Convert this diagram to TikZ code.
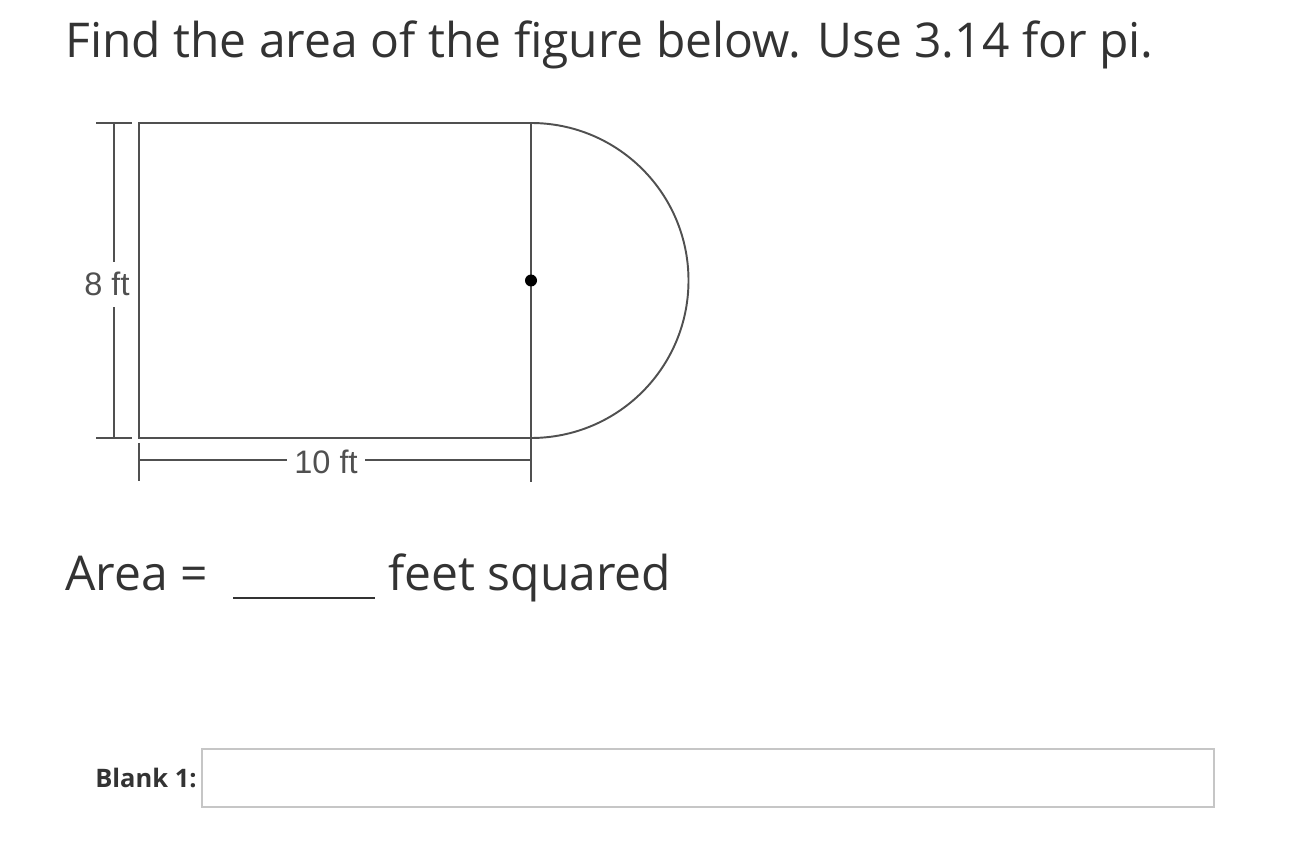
\documentclass[tikz,border=0pt]{standalone}
\usepackage{fontspec}
\setmainfont{Open Sans}
\newfontfamily\figfont{Liberation Sans}
\usetikzlibrary{positioning, calc}
\definecolor{ink}{RGB}{51,51,51}
\definecolor{figgray}{RGB}{80,80,80}
\definecolor{boxgray}{RGB}{198,198,198}

\begin{document}
\begin{tikzpicture}[
    x=0.02cm, y=-0.02cm,
    qtext/.style={anchor=base west, inner sep=0pt, text=ink, font=\fontsize{27.3}{30}\selectfont},
    figline/.style={draw=figgray, line width=1.1pt},
    dimlabel/.style={text=figgray, inner sep=0pt, font=\figfont\fontsize{18.5}{20}\selectfont}
]
\useasboundingbox (0,0) rectangle (1296,851);

% question text
\node[qtext] (title) at (65,58) {Find the area of the figure below. Use 3.14 for pi.};
\node[qtext] (arealbl) at (65,590) {Area =};
\node[qtext] (unit) at (388,590) {feet squared};
\coordinate (blankL) at (233,598);
\coordinate (blankR) at (375,598);
\draw[ink, line width=1.2pt] (blankL) -- (blankR);

% figure: rectangle with half circle
\coordinate (tl) at (139,123);
\coordinate (tr) at (531,123);
\coordinate (bl) at (139,438);
\coordinate (br) at (531,438);
\coordinate (ctr) at (531,280.5);
\draw[figline] (tr) -- (tl) -- (bl) -- (br) -- cycle;
\draw[figline] (tr) arc[start angle=-90, end angle=90, radius=157.5];
\fill[black] (ctr) circle[radius=6];

% height dimension
\node[dimlabel] (hlbl) at (107,284) {8 ft};
\coordinate (htop) at (114,123);
\coordinate (hbot) at (114,438);
\draw[figline] (96,123) -- (132,123);
\draw[figline] (96,438) -- (132,438);
\draw[figline] (htop) -- (htop |- 0,262);
\draw[figline] (hbot) -- (hbot |- 0,307);

% width dimension
\node[dimlabel, inner xsep=4pt] (wlbl) at (326,462) {10 ft};
\coordinate (wl) at (139,460);
\coordinate (wr) at (531,460);
\draw[figline] (139,443) -- (139,481);
\draw[figline] (br) -- (531,482);
\draw[figline] (wl) -- (wl -| wlbl.west);
\draw[figline] (wr) -- (wr -| wlbl.east);

% answer field
\node[anchor=base west, inner sep=0pt, text=ink, font=\bfseries\fontsize{14.5}{16}\selectfont] (blanklbl) at (95,787) {Blank 1:};
\node[draw=boxgray, line width=1.1pt, minimum width=1012*0.02cm, minimum height=58*0.02cm, anchor=north west, inner sep=0pt] (field) at (201,748) {};

\end{tikzpicture}
\end{document}
